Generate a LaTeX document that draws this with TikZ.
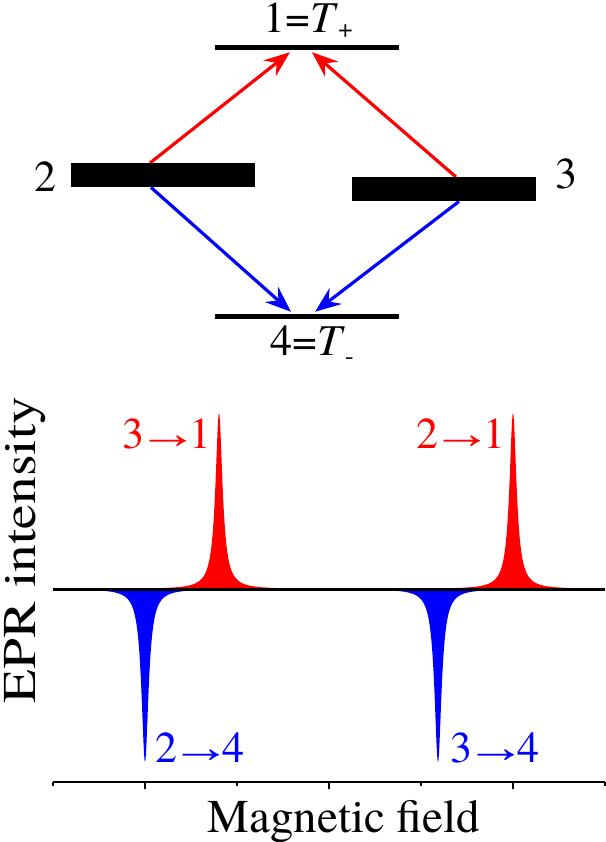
\documentclass[tikz,border=0pt]{standalone}
\usepackage{fontspec}
\setmainfont{TeX Gyre Termes}
\newfontfamily\arrfont{Liberation Serif}
\newcommand{\tto}{\kern-7pt{\arrfont\scalebox{1.4}[1]{→}}\kern-9pt}
\usetikzlibrary{arrows.meta}
\begin{document}
\begin{tikzpicture}[x=1pt,y=-1pt,
  declare function={lor(\x,\c,\a)=\a/(1+((\x-\c)/4.3)^2);},
  levelline/.style={fill=black,minimum width=184pt,minimum height=5pt,inner sep=0pt},
  statebox/.style={fill=black,minimum width=184pt,minimum height=24pt,inner sep=0pt,anchor=north west},
  trans/.style={line width=3.2pt,-{Stealth[length=26pt,width=20pt,inset=9pt]}},
  lab/.style={font=\fontsize{44}{48}\selectfont,inner sep=0pt,anchor=base},
  axlab/.style={font=\fontsize{47}{50}\selectfont,inner sep=0pt,anchor=base}]
\useasboundingbox (0,0) rectangle (605,842);
% energy levels
\node[levelline] (L1) at (307,48) {};
\node[levelline] (L4) at (307,316) {};
\node[statebox] (L2) at (71,163) {};
\node[statebox] (L3) at (352,177) {};
\node[lab] (t1) at (308,33) {1=\textit{T}\raisebox{-4.5pt}{\fontsize{26}{26}\selectfont +}};
\node[lab] (t4) at (312,355) {4=\textit{T}\raisebox{-9pt}{\fontsize{26}{26}\selectfont -}};
\node[lab] (t2) at (45.5,192) {2};
\node[lab] (t3) at (566,189) {3};
% transitions
\draw[trans,red] ([xshift=79pt]L2.north west) -- ([xshift=-17pt,yshift=-1.5pt]L1.south);
\draw[trans,red] ([xshift=104pt]L3.north west) -- ([xshift=5pt,yshift=-1.5pt]L1.south);
\draw[trans,blue] ([xshift=80pt]L2.south west) -- ([xshift=-16pt,yshift=1.5pt]L4.north);
\draw[trans,blue] ([xshift=107pt]L3.south west) -- ([xshift=8pt,yshift=1.5pt]L4.north);
\node[statebox] at (71,163) {};
\node[statebox] at (352,177) {};
% spectrum
\fill[red] (69,589) -- plot[domain=69:369,samples=601] (\x,{589-lor(\x,219,176)}) -- (369,589) -- cycle;
\fill[red] (363,589) -- plot[domain=363:605,samples=485] (\x,{589-lor(\x,513,176)}) -- (605,589) -- cycle;
\fill[blue] (53,589) -- plot[domain=53:295,samples=485] (\x,{589+lor(\x,145,173)}) -- (295,589) -- cycle;
\fill[blue] (288,589) -- plot[domain=288:588,samples=601] (\x,{589+lor(\x,438,173)}) -- (588,589) -- cycle;
\coordinate (b0) at (53,589);
\coordinate (b1) at (605,589);
\draw[line width=3pt] (b0) -- (b1);
\node[lab,red] (p31) at (167,448) {3\tto1};
\node[lab,red] (p21) at (461,448) {2\tto1};
\node[lab,blue] (p24) at (200,762) {2\tto4};
\node[lab,blue] (p34) at (495,762) {3\tto4};
% axis
\coordinate (a0) at (53,782);
\coordinate (a1) at (605,782);
\draw[line width=1.3pt] (a0) -- (a1);
\foreach \t in {53,237,421,605} \draw[line width=1.3pt] (\t,782) -- (\t,786);
\foreach \t in {145,329,513} \draw[line width=1.3pt] (\t,782) -- (\t,789);
\node[axlab] (xl) at (344,832) {Magnetic field};
\node[axlab,rotate=90] (yl) at (35,550) {\scalebox{1.18}[1]{EPR intensity}};
\end{tikzpicture}
\end{document}
